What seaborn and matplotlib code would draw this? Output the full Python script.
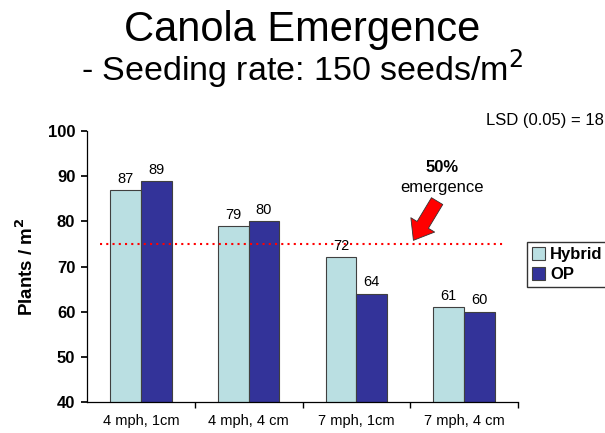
import pandas as pd
import seaborn as sns
import matplotlib
matplotlib.use("Agg")
import matplotlib.pyplot as plt

# data
treatments = ["4 mph, 1cm", "4 mph, 4 cm", "7 mph, 1cm", "7 mph, 4 cm"]
hybrid = [87, 79, 72, 61]
op = [89, 80, 64, 60]
varieties = ["Hybrid", "OP"]
colors = ["#BADFE2", "#333399"]
half_emergence = 75

df = pd.DataFrame({
    "treatment": treatments * 2,
    "variety": ["Hybrid"] * 4 + ["OP"] * 4,
    "plants": hybrid + op,
})

sns.set_theme(style="white")
plt.rcParams["font.family"] = ["Liberation Sans", "DejaVu Sans"]
plt.rcParams.update({"text.color": "black", "axes.labelcolor": "black",
                     "xtick.color": "black", "ytick.color": "black"})

fig = plt.figure(figsize=(6.05, 4.33), dpi=100)
ax = fig.add_axes([0.144, 0.072, 0.712, 0.625])

sns.barplot(data=df, x="treatment", y="plants", hue="variety",
            order=treatments, hue_order=varieties, palette=colors,
            saturation=1, width=0.571, edgecolor="#404040", linewidth=0.8, ax=ax)

for cont in ax.containers:
    ax.bar_label(cont, fmt="%d", fontsize=10.5, padding=3)

ax.set_ylim(40, 100)
ax.set_yticks(range(40, 101, 10))
ax.set_xlim(-0.5, 3.5)
ax.set_xticks([0, 1, 2, 3])
ax.set_xticklabels(treatments, fontsize=10.5)
ax.set_xticks([0.5, 1.5, 2.5, 3.5], minor=True)
ax.tick_params(axis="x", which="major", length=0, pad=9)
ax.tick_params(axis="x", which="minor", length=4, direction="out", bottom=True)
ax.tick_params(axis="y", length=4.5, direction="out", left=True, labelsize=12, pad=4)
for lab in ax.get_yticklabels():
    lab.set_fontweight("bold")
ax.set_xlabel("")
ax.set_ylabel("Plants / m$^\\mathbf{2}$", fontsize=13.5, fontweight="bold", labelpad=8)
sns.despine(ax=ax)
for s in ["left", "bottom"]:
    ax.spines[s].set_color("black")
    ax.spines[s].set_linewidth(0.9)

# 50% emergence line
ax.axhline(half_emergence, xmin=0.03, xmax=0.97, color="red", linestyle=(0, (1, 2)), linewidth=1.5)
ax.annotate("", xy=(2.53, 75.8), xytext=(2.75, 84.5),
            arrowprops=dict(facecolor="red", edgecolor="#333333", width=9.5,
                            headwidth=20, headlength=13, linewidth=0.6))
ax.text(2.80, 92.0, "50%", ha="center", va="center", fontsize=12, fontweight="bold")
ax.text(2.80, 87.6, "emergence", ha="center", va="center", fontsize=12)

ax.legend(loc="upper left", bbox_to_anchor=(0.871, 0.441), bbox_transform=fig.transFigure,
          frameon=True, fancybox=False, edgecolor="black",
          prop={"weight": "bold", "size": 12},
          handlelength=0.8, handleheight=0.8, handletextpad=0.3,
          borderpad=0.3, labelspacing=0.3, borderaxespad=0)

fig.text(0.5, 1 - 41 / 433, "Canola Emergence", ha="center", va="baseline", fontsize=30)
fig.text(0.5, 1 - 80 / 433, "- Seeding rate: 150 seeds/m$^2$", ha="center", va="baseline", fontsize=24.5)
fig.text(0.998, 1 - 120 / 433, "LSD (0.05) = 18", ha="right", va="center", fontsize=12)

fig.savefig("out.png", dpi=100)
